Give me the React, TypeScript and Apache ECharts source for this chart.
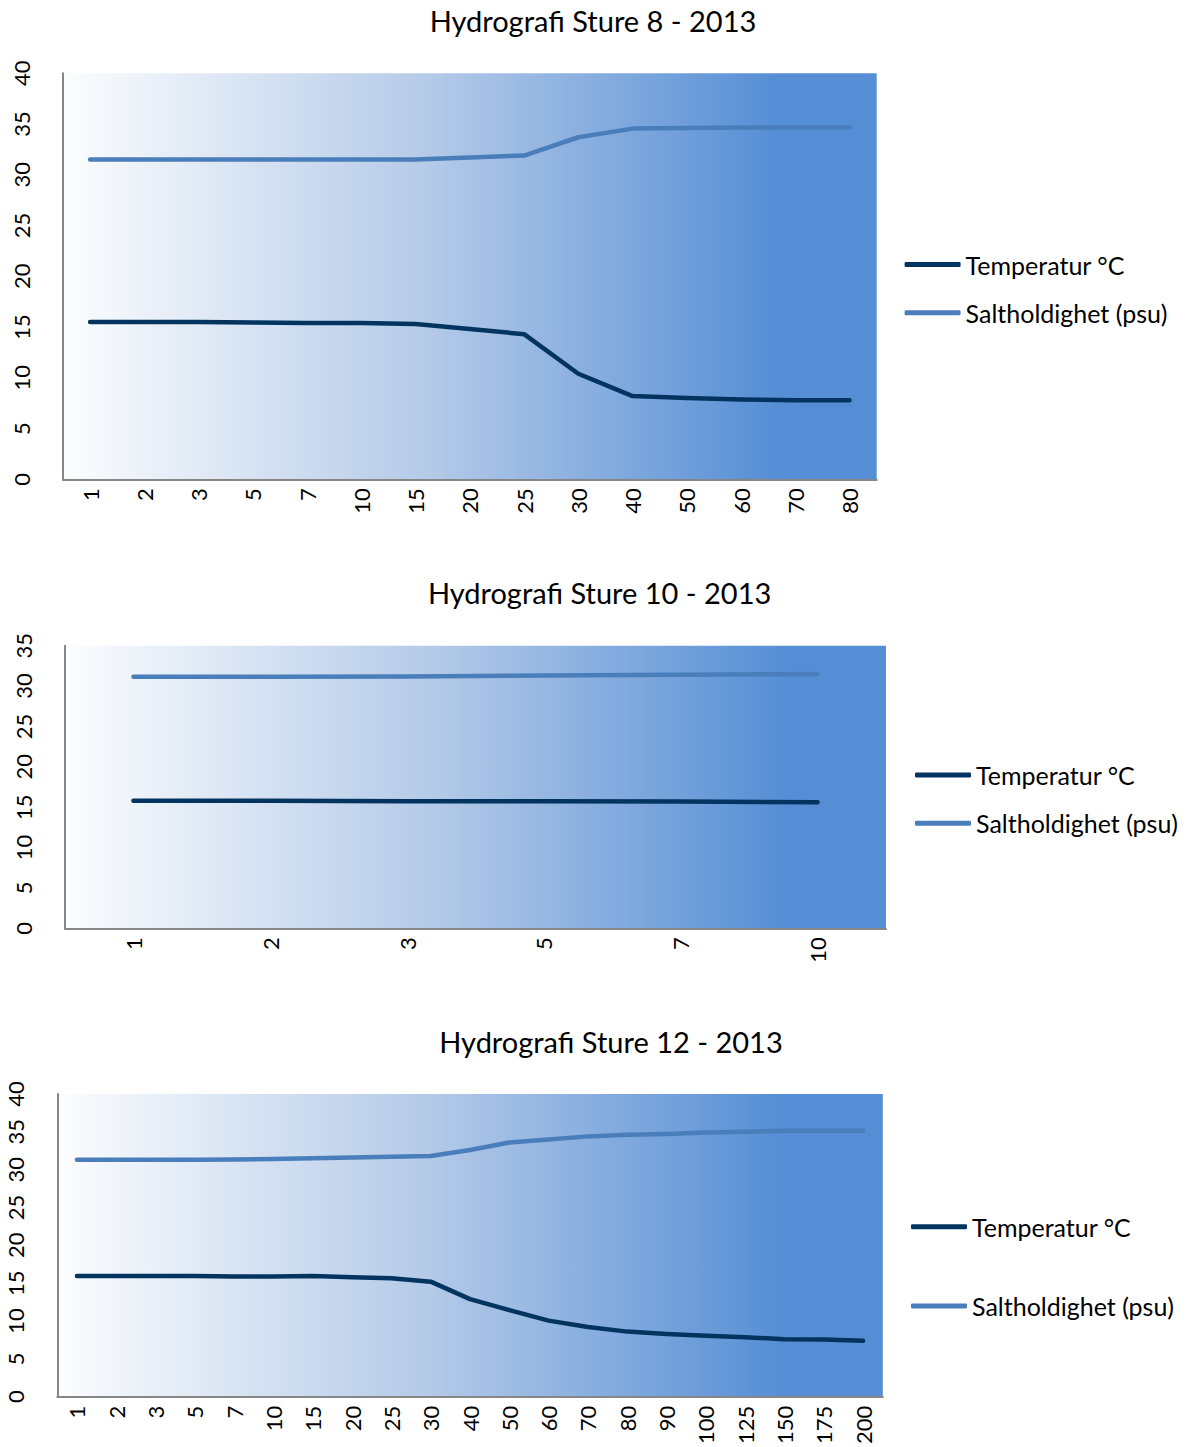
import React, { useEffect, useRef } from "react";
import * as echarts from "echarts";

const seriesNames = ["Temperatur °C", "Saltholdighet (psu)"];

const titles = ["Hydrografi Sture 8 - 2013", "Hydrografi Sture 10 - 2013", "Hydrografi Sture 12 - 2013"];

const depths1 = ["1", "2", "3", "5", "7", "10", "15", "20", "25", "30", "40", "50", "60", "70", "80"];
const temp1 = [15.5, 15.5, 15.5, 15.45, 15.4, 15.4, 15.3, 14.8, 14.3, 10.4, 8.2, 8.0, 7.85, 7.8, 7.8];
const salt1 = [31.5, 31.5, 31.5, 31.5, 31.5, 31.5, 31.5, 31.7, 31.9, 33.7, 34.55, 34.6, 34.65, 34.65, 34.65];

const depths2 = ["1", "2", "3", "5", "7", "10"];
const temp2 = [15.8, 15.8, 15.75, 15.75, 15.7, 15.6];
const salt2 = [31.15, 31.15, 31.2, 31.3, 31.4, 31.5];

const depths3 = ["1", "2", "3", "5", "7", "10", "15", "20", "25", "30", "40", "50", "60", "70", "80", "90", "100", "125", "150", "175", "200"];
const temp3 = [15.95, 15.95, 15.95, 15.95, 15.9, 15.9, 15.95, 15.8, 15.65, 15.2, 12.9, 11.45, 10.05, 9.2, 8.6, 8.3, 8.05, 7.85, 7.6, 7.55, 7.4];
const salt3 = [31.3, 31.3, 31.3, 31.3, 31.35, 31.4, 31.5, 31.6, 31.7, 31.8, 32.6, 33.6, 34.0, 34.4, 34.6, 34.7, 34.9, 35.0, 35.15, 35.15, 35.15];

const yMax = [40, 35, 40];

const FONT = "Lato";

const panels = [
  { cats: depths1, temp: temp1, salt: salt1, grid: { left: 63, top: 73.3, width: 813.7, height: 406 }, titleX: 593, titleTop: 6, legend: { left: 904.6, top: 251.5, gap: 22.3 } },
  { cats: depths2, temp: temp2, salt: salt2, grid: { left: 65, top: 645.7, width: 821, height: 282.6 }, titleX: 599.6, titleTop: 578, legend: { left: 915, top: 762, gap: 22.3 } },
  { cats: depths3, temp: temp3, salt: salt3, grid: { left: 57.3, top: 1094, width: 825.5, height: 302.7 }, titleX: 611, titleTop: 1027, legend: { left: 911, top: 1213.7, gap: 53.3 } },
];

const TEMP_COLOR = "#03345f";
const SALT_COLOR = "#4a7ebb";
const AXIS_COLOR = "#868686";

function buildOption() {
  const grid: any[] = [];
  const xAxis: any[] = [];
  const yAxis: any[] = [];
  const series: any[] = [];
  const title: any[] = [];
  const legend: any[] = [];

  panels.forEach((p, i) => {
    grid.push({
      ...p.grid,
      show: true,
      borderWidth: 0,
      outerBoundsMode: "none",
      backgroundColor: new echarts.graphic.LinearGradient(0, 0, 1, 0, [
        { offset: 0, color: "#fcfdfe" },
        { offset: 0.45, color: "#b4cae8" },
        { offset: 0.88, color: "#558ed5" },
        { offset: 1, color: "#558ed5" },
      ]),
    });
    xAxis.push({
      type: "category",
      gridIndex: i,
      data: p.cats,
      boundaryGap: true,
      axisTick: { show: false },
      axisLine: { show: true, lineStyle: { color: AXIS_COLOR, width: 2 } },
      axisLabel: { rotate: 90, margin: 9, fontSize: 22, color: "#000", fontFamily: FONT, interval: 0 },
      splitLine: { show: false },
    });
    yAxis.push({
      type: "value",
      gridIndex: i,
      min: 0,
      max: yMax[i],
      interval: 5,
      axisTick: { show: false },
      axisLine: { show: true, lineStyle: { color: AXIS_COLOR, width: 2 } },
      axisLabel: { rotate: 90, margin: 31, fontSize: 22, color: "#000", fontFamily: FONT },
      splitLine: { show: false },
    });
    series.push({
      name: seriesNames[0],
      type: "line",
      xAxisIndex: i,
      yAxisIndex: i,
      data: p.temp,
      symbol: "none",
      lineStyle: { color: TEMP_COLOR, width: 4.5, cap: "round", join: "round" },
      itemStyle: { color: TEMP_COLOR },
    });
    series.push({
      name: seriesNames[1],
      type: "line",
      xAxisIndex: i,
      yAxisIndex: i,
      data: p.salt,
      symbol: "none",
      lineStyle: { color: SALT_COLOR, width: 4.5, cap: "round", join: "round" },
      itemStyle: { color: SALT_COLOR },
    });
    title.push({
      text: titles[i],
      left: p.titleX,
      top: p.titleTop,
      textAlign: "center",
      padding: 0,
      textStyle: { fontFamily: FONT, fontSize: 29, fontWeight: "normal", color: "#000" },
    });
    legend.push({
      orient: "vertical",
      left: p.legend.left,
      top: p.legend.top,
      itemGap: p.legend.gap,
      itemWidth: 56,
      itemHeight: 5,
      padding: 0,
      icon: "roundRect",
      selectedMode: false,
      data: seriesNames,
      textStyle: { fontFamily: FONT, fontSize: 25, lineHeight: 26, color: "#000" },
    });
  });

  return {
    animation: false,
    backgroundColor: "#ffffff",
    title,
    legend,
    grid,
    xAxis,
    yAxis,
    series,
  };
}

export default function App() {
  const ref = useRef<HTMLDivElement>(null);
  useEffect(() => {
    if (!ref.current) return;
    const chart = echarts.init(ref.current, undefined, { renderer: "svg" });
    chart.setOption(buildOption());
    return () => chart.dispose();
  }, []);
  return (
    <div
      ref={ref}
      style={{ position: "absolute", left: 0, top: 0, width: 1186, height: 1447, background: "#fff" }}
    />
  );
}
